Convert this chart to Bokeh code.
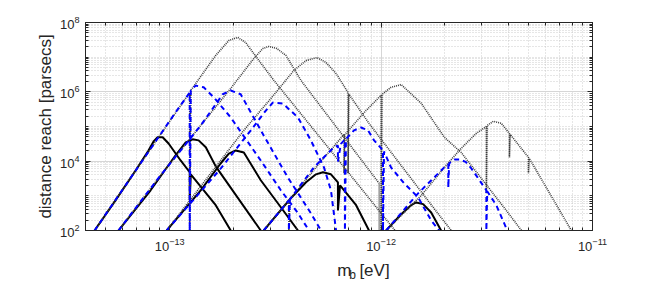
import numpy as np
from bokeh.plotting import figure
from bokeh.layouts import column
from bokeh.models import FixedTicker, LogAxis, CustomJSTickFormatter
from bokeh.core.properties import value
from bokeh.embed import file_html
from bokeh.resources import INLINE

# ---- data: log10(m_b [eV]) and log10(distance reach [pc]) ----
K1_logm = [-13.355,-13.256,-13.161,-13.100,-13.076,-13.057,-13.033,-13.005,-12.948,-12.905,-12.905,-12.900,-12.782,-12.711]
K1_logd = [2.0, 2.87, 3.73, 4.31, 4.57, 4.69, 4.69, 4.51, 4.02, 3.68, 2.87, 3.62, 2.73, 2.0]
B1_logm = [-13.355,-13.137,-12.972,-12.905,-12.905,-12.900,-12.877,-12.839,-12.791,-12.711,-12.569,-12.474,-12.393,-12.341]
B1_logd = [2.0, 3.94, 5.41, 5.98, 2.0, 6.04, 6.18, 6.13, 5.84, 5.26, 4.02, 3.16, 2.50, 2.0]
G1_logm = [-13.355,-13.137,-12.905,-12.905,-12.900,-12.782,-12.720,-12.678,-12.640,-12.592,-12.507,-12.190,-11.934]
G1_logd = [2.0, 3.94, 5.98, 2.0, 6.04, 7.05, 7.48, 7.57, 7.42, 7.02, 6.33, 3.94, 2.0]

K2_logm = [-13.242,-13.090,-12.972,-12.924,-12.891,-12.863,-12.829,-12.782,-12.569]
K2_logd = [2.0, 3.16, 4.17, 4.54, 4.63, 4.60, 4.40, 3.85, 2.0]
B2_logm = [-13.242,-13.043,-12.853,-12.782,-12.749,-12.711,-12.664,-12.555,-12.441,-12.332,-12.284]
B2_logd = [2.0, 3.59, 5.03, 5.64, 5.93, 6.04, 5.93, 4.74, 3.53, 2.50, 2.0]
G2_logm = [-13.242,-13.043,-12.853,-12.711,-12.602,-12.559,-12.531,-12.493,-12.450,-12.379,-12.009,-12.009]
G2_logd = [2.0, 3.59, 5.03, 6.10, 6.96, 7.25, 7.31, 7.25, 7.05, 6.33, 3.36, 2.0]

K3_logm = [-13.014,-12.853,-12.758,-12.720,-12.687,-12.649,-12.569,-12.474,-12.393]
K3_logd = [2.0, 3.16, 3.94, 4.22, 4.31, 4.25, 3.45, 2.67, 2.0]
B3_logm = [-13.014,-12.758,-12.616,-12.545,-12.512,-12.464,-12.393,-12.332,-12.270,-12.237,-12.213]
B3_logd = [2.0, 3.79, 4.89, 5.46, 5.69, 5.66, 5.26, 4.60, 3.82, 3.16, 2.0]
G3_logm = [-13.014,-12.649,-12.521,-12.412,-12.355,-12.303,-12.261,-12.213,-12.156,-12.156,-12.152,-12.057,-11.754,-11.668]
G3_logd = [2.0, 4.89, 5.81, 6.62, 6.90, 6.99, 6.85, 6.53, 5.98, 3.65, 5.93, 5.09, 2.67, 2.0]

K4_logm = [-12.555,-12.427,-12.355,-12.308,-12.275,-12.237,-12.204,-12.204,-12.194,-12.118,-12.057]
K4_logd = [2.0, 2.93, 3.39, 3.62, 3.68, 3.62, 3.39, 2.58, 3.30, 2.73, 2.0]
B4_logm = [-12.555,-12.436,-12.436,-12.431,-12.318,-12.223,-12.204,-12.204,-12.190,-12.175,-12.171,-12.171,-12.166,
           -12.128,-12.095,-12.062,-12.033,-11.991,-11.991,-11.986,-11.953,-11.891,-11.825,-11.763,-11.725]
B4_logd = [2.0, 2.87, 2.0, 2.90, 3.82, 4.40, 4.45, 3.99, 4.50, 4.60, 4.62, 2.0, 4.64,
           4.89, 4.97, 4.89, 4.60, 4.31, 2.0, 4.28, 3.82, 3.36, 2.96, 2.29, 2.0]
G4_logm = [-12.555,-12.436,-12.436,-12.431,-12.284,-12.175,-12.175,-12.171,-12.071,-12.0,-12.0,-11.995,-11.953,
           -11.905,-11.810,-11.701,-11.621,-11.408,-11.336]
G4_logd = [2.0, 2.87, 2.0, 2.90, 4.0, 4.77, 3.65, 4.77, 5.46, 5.90, 2.0, 5.93, 6.13,
           6.21, 5.67, 4.69, 4.25, 2.58, 2.0]

K5_logm = [-11.976,-11.905,-11.858,-11.834,-11.801,-11.763,-11.716]
K5_logd = [2.0, 2.47, 2.73, 2.81, 2.76, 2.52, 2.0]
B5_logm = [-11.976,-11.825,-11.701,-11.682,-11.682,-11.678,-11.650,-11.630,-11.600,-11.573,-11.502,-11.502,-11.498,-11.455,-11.403]
B5_logd = [2.0, 3.07, 3.82, 3.90, 3.24, 3.94, 4.05, 4.05, 3.98, 3.79, 3.16, 2.0, 3.13, 2.73, 2.0]
G5_logm = [-11.976,-11.810,-11.692,-11.621,-11.550,-11.502,-11.502,-11.498,-11.469,-11.431,-11.393,-11.393,-11.389,-11.303,-11.303,-11.299,-11.100]
G5_logd = [2.0, 3.01, 3.88, 4.37, 4.80, 5.0, 3.07, 5.03, 5.15, 5.09, 4.80, 4.11, 4.77, 4.11, 3.65, 4.08, 2.0]

x_major = [1e-13, 1e-12, 1e-11]
y_major = [1e2, 1e4, 1e6, 1e8]
y_label = "distance reach [parsecs]"
x_label_parts = ["m", "b", "[eV]"]

FONT = "Liberation Sans"
AX = "#262626"

p = figure(frame_width=507, frame_height=208, x_axis_type="log", y_axis_type="log",
           x_range=(4e-14, 1e-11), y_range=(1e2, 1e8),
           output_backend="svg", toolbar_location=None,
           min_border_left=85, min_border_top=22, min_border_right=30, min_border_bottom=28,
           background_fill_color="white", border_fill_color="white")

x_minor = [k * 10.0**e for e in range(-14, -11) for k in range(1, 10)]
y_minor = [k * 10.0**e for e in range(2, 8) for k in range(1, 10)]

def style_axis(ax, ticks, minor, show_labels=True):
    ax.ticker = FixedTicker(ticks=ticks, minor_ticks=minor)
    ax.major_tick_in = 5
    ax.major_tick_out = 0
    ax.minor_tick_in = 3
    ax.minor_tick_out = 0
    ax.axis_line_color = AX
    ax.major_tick_line_color = AX
    ax.minor_tick_line_color = AX
    ax.major_label_text_font = FONT
    ax.major_label_text_font_size = "13px"
    ax.major_label_text_color = AX
    ax.axis_label_text_font = FONT
    ax.axis_label_text_font_style = "normal"
    ax.axis_label_text_font_size = "17px"
    ax.axis_label_text_color = AX
    if not show_labels:
        ax.formatter = CustomJSTickFormatter(code="return ''")

style_axis(p.xaxis[0], x_major, x_minor)
style_axis(p.yaxis[0], y_major, y_minor)
p.xaxis[0].major_label_standoff = 7
p.yaxis[0].major_label_standoff = 6
p.yaxis[0].axis_label = y_label
p.yaxis[0].axis_label_standoff = 2

top = LogAxis()
style_axis(top, x_major, x_minor, show_labels=False)
p.add_layout(top, "above")
right = LogAxis()
style_axis(right, y_major, y_minor, show_labels=False)
p.add_layout(right, "right")

for g, t, mn in ((p.xgrid[0], x_major, x_minor), (p.ygrid[0], y_major, y_minor)):
    g.ticker = FixedTicker(ticks=t, minor_ticks=mn)
    g.grid_line_color = "#d6d6d6"
    g.grid_line_width = 1
    g.minor_grid_line_color = "#c0c0c0"
    g.minor_grid_line_dash = "1 2"
    g.minor_grid_line_alpha = 0.8

p.outline_line_color = AX
p.outline_line_width = 1

def tolin(a):
    return 10.0 ** np.asarray(a)

blacks = [(K1_logm, K1_logd), (K2_logm, K2_logd), (K3_logm, K3_logd), (K4_logm, K4_logd), (K5_logm, K5_logd)]
blues = [(B1_logm, B1_logd), (B2_logm, B2_logd), (B3_logm, B3_logd), (B4_logm, B4_logd), (B5_logm, B5_logd)]
grays = [(G1_logm, G1_logd), (G2_logm, G2_logd), (G3_logm, G3_logd), (G4_logm, G4_logd), (G5_logm, G5_logd)]

for m, d in blacks:
    p.line(tolin(m), tolin(d), line_color="black", line_width=2)
for m, d in grays:
    p.line(tolin(m), tolin(d), line_color="#3c3c3c", line_width=1.6, line_dash="1 1")
for m, d in blues:
    p.line(tolin(m), tolin(d), line_color="#0000ff", line_width=2, line_dash="5 4")

# strip below holding the x-axis label m_b [eV] (with subscript b)
W = 85 + 507 + 30
H2 = 22
p2 = figure(width=W, height=H2, x_range=(0, W), y_range=(H2, 0),
            output_backend="svg", toolbar_location=None, min_border=0,
            background_fill_color="white", border_fill_color="white")
p2.axis.visible = False
p2.grid.visible = False
p2.outline_line_color = None
p2.text(x=[309], y=[12], text=[x_label_parts[0]], text_font=value(FONT), text_font_size="17px",
        text_color=AX, text_baseline="alphabetic", text_align="left")
p2.text(x=[323.5], y=[16], text=[x_label_parts[1]], text_font=value(FONT), text_font_size="12px",
        text_color=AX, text_baseline="alphabetic", text_align="left")
p2.text(x=[336], y=[12], text=[x_label_parts[2]], text_font=value(FONT), text_font_size="17px",
        text_color=AX, text_baseline="alphabetic", text_align="left")

layout = column(p, p2, spacing=0)
open("out.html", "w").write(file_html(layout, INLINE))
